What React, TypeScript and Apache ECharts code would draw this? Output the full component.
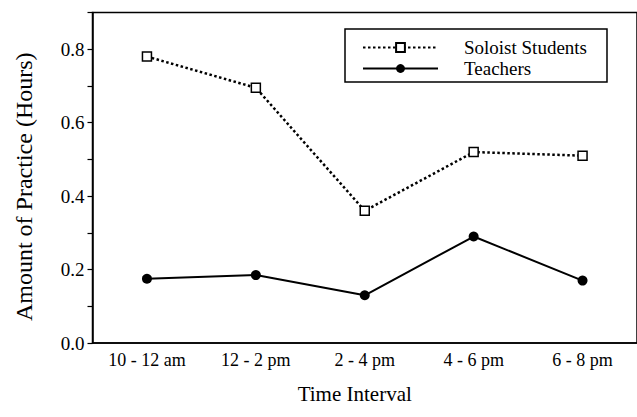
import React, { useEffect, useRef } from "react";
import * as echarts from "echarts";

const categories = ["10 - 12 am", "12 - 2 pm", "2 - 4 pm", "4 - 6 pm", "6 - 8 pm"];
const soloistStudents = [0.78, 0.695, 0.36, 0.52, 0.51];
const teachers = [0.175, 0.185, 0.13, 0.29, 0.17];
const seriesNames = ["Soloist Students", "Teachers"];
const yAxisTitle = "Amount of Practice (Hours)";
const xAxisTitle = "Time Interval";

const FONT = "Liberation Serif";

export default function App() {
  const ref = useRef<HTMLDivElement>(null);
  useEffect(() => {
    if (!ref.current) return;
    const chart = echarts.init(ref.current, undefined, { renderer: "svg" });
    chart.setOption({
      animation: false,
      backgroundColor: "#ffffff",
      textStyle: { fontFamily: FONT, color: "#000" },
      grid: {
        left: 92.5,
        top: 12.5,
        right: -8,
        bottom: 74,
        show: true,
        borderColor: "#000",
        borderWidth: 1.5,
        backgroundColor: "transparent",
      },
      legend: {
        left: 345,
        top: 29,
        orient: "vertical",
        itemWidth: 75,
        itemHeight: 11,
        itemGap: 2,
        padding: [9, 20, 4, 17],
        borderColor: "#000",
        borderWidth: 1.5,
        backgroundColor: "#fff",
        formatter: (name: string) => "{t|" + name + "}",
        textStyle: {
          fontFamily: FONT,
          fontSize: 19,
          color: "#000",
          rich: {
            t: {
              fontFamily: FONT,
              fontSize: 19,
              color: "#000",
              lineHeight: 20,
              padding: [0, 0, 0, 21],
            },
          },
        },
        data: seriesNames,
      },
      xAxis: {
        type: "category",
        data: categories,
        boundaryGap: true,
        axisLine: { lineStyle: { color: "#000", width: 1.5 } },
        axisTick: { alignWithLabel: true, length: 5, lineStyle: { color: "#000", width: 1.2 } },
        axisLabel: { fontFamily: FONT, fontSize: 18, color: "#000", margin: 8 },
        splitLine: { show: false },
        name: xAxisTitle,
        nameLocation: "middle",
        nameGap: 40,
        nameTextStyle: { fontFamily: FONT, fontSize: 21, color: "#000", padding: [0, 20, 0, 0] },
      },
      yAxis: {
        type: "value",
        min: 0,
        max: 0.9,
        interval: 0.1,
        axisLine: { show: true, lineStyle: { color: "#000", width: 1.5 } },
        axisTick: { show: true, length: 5, lineStyle: { color: "#000", width: 1.2 } },
        axisLabel: {
          fontFamily: FONT,
          fontSize: 19,
          color: "#000",
          margin: 8,
          formatter: (v: number) => {
            const k = Math.round(v * 10);
            return k % 2 === 0 && k <= 8 ? v.toFixed(1) : "";
          },
        },
        splitLine: { show: false },
        name: yAxisTitle,
        nameLocation: "middle",
        nameGap: 57,
        nameTextStyle: { fontFamily: FONT, fontSize: 24, color: "#000", padding: [0, 18, 0, 0] },
      },
      series: [
        {
          name: seriesNames[0],
          type: "line",
          data: soloistStudents,
          symbol: "rect",
          symbolSize: 9,
          lineStyle: { color: "#000", width: 2.5, type: [2.5, 2.5] },
          itemStyle: { color: "#fff", borderColor: "#000", borderWidth: 1.5 },
        },
        {
          name: seriesNames[1],
          type: "line",
          data: teachers,
          symbol: "circle",
          symbolSize: 10,
          lineStyle: { color: "#000", width: 2 },
          itemStyle: { color: "#000", borderColor: "#000", borderWidth: 0 },
        },
      ],
    });
    return () => chart.dispose();
  }, []);
  return (
    <div
      ref={ref}
      style={{ position: "absolute", left: 0, top: 0, width: 637, height: 417, background: "#fff" }}
    />
  );
}
